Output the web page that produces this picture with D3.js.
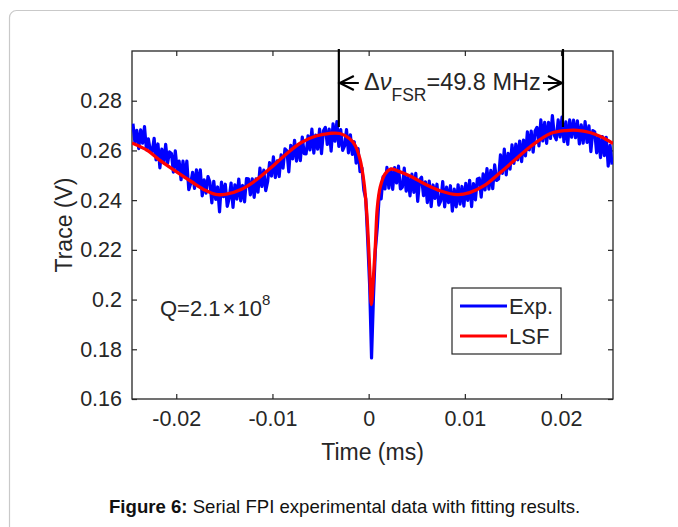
<!DOCTYPE html>
<html>
<head>
<meta charset="utf-8">
<script src="https://cdn.jsdelivr.net/npm/d3@7"></script>
<style>
  body { margin: 0; background: #fff; }
  text { font-family: "Liberation Sans", Arial, sans-serif; fill: #262626; }
</style>
</head>
<body>
<div id="fig"></div>
<script>
// tick values
const xTicks = [-0.02, -0.01, 0, 0.01, 0.02];
const yTicks = [0.16, 0.18, 0.2, 0.22, 0.24, 0.26, 0.28];

// LSF fit curve (time in ms, trace in V)
const fitT = [-0.0246, -0.0230, -0.0218, -0.0200, -0.0184, -0.0170, -0.0159, -0.0148, -0.0132, -0.0118,
  -0.0102, -0.0085, -0.0070, -0.0054, -0.0040, -0.0030, -0.0020, -0.0014, -0.0009, -0.0005,
  -0.0002, 0.0001, 0.00028, 0.0005, 0.0007, 0.0009, 0.0012, 0.0017, 0.0023, 0.0030,
  0.0043, 0.0060, 0.0075, 0.0092, 0.0105, 0.0120, 0.0135, 0.0150, 0.0168, 0.0189,
  0.0205, 0.0217, 0.0230, 0.0241, 0.0254];
const fitV = [0.2630, 0.2600, 0.2563, 0.2515, 0.2474, 0.2440, 0.2423, 0.2424, 0.2444, 0.2478,
  0.2529, 0.2588, 0.2632, 0.2659, 0.2669, 0.2668, 0.2648, 0.2620, 0.2565, 0.2475,
  0.2350, 0.2130, 0.1980, 0.2090, 0.2220, 0.2370, 0.2452, 0.2505, 0.2525, 0.2518,
  0.2497, 0.2462, 0.2437, 0.2422, 0.2430, 0.2458, 0.2505, 0.2555, 0.2615, 0.2668,
  0.2680, 0.2681, 0.2672, 0.2656, 0.2628];

// experimental trace, sampled every 0.0002 ms from -0.0245 ms
const expStart = -0.0245, expStep = 0.0002;
const expV = [
  0.2708, 0.2634, 0.2681, 0.2607, 0.2683, 0.2629, 0.2696, 0.2602, 0.2647, 0.2601,
  0.2595, 0.2649, 0.2562, 0.2626, 0.2530, 0.2605, 0.2550, 0.2624, 0.2549, 0.2594,
  0.2588, 0.2513, 0.2598, 0.2522, 0.2557, 0.2482, 0.2557, 0.2492, 0.2557, 0.2442,
  0.2467, 0.2512, 0.2447, 0.2522, 0.2457, 0.2522, 0.2417, 0.2482, 0.2428, 0.2495,
  0.2472, 0.2389, 0.2476, 0.2403, 0.2453, 0.2353, 0.2473, 0.2414, 0.2464, 0.2375,
  0.2406, 0.2469, 0.2371, 0.2462, 0.2404, 0.2485, 0.2397, 0.2459, 0.2393, 0.2487,
  0.2486, 0.2421, 0.2486, 0.2411, 0.2486, 0.2432, 0.2529, 0.2455, 0.2521, 0.2438,
  0.2474, 0.2551, 0.2497, 0.2574, 0.2491, 0.2558, 0.2495, 0.2582, 0.2529, 0.2606,
  0.2598, 0.2514, 0.2620, 0.2566, 0.2641, 0.2557, 0.2623, 0.2559, 0.2654, 0.2587,
  0.2586, 0.2659, 0.2602, 0.2686, 0.2589, 0.2662, 0.2605, 0.2686, 0.2587, 0.2679,
  0.2693, 0.2624, 0.2686, 0.2597, 0.2707, 0.2637, 0.2716, 0.2616, 0.2684, 0.2600,
  0.2618, 0.2684, 0.2590, 0.2663, 0.2584, 0.2635, 0.2549, 0.2607, 0.2515, 0.2530,
  0.2440, 0.2405, 0.2240, 0.2060, 0.1765, 0.2010, 0.2200, 0.2290, 0.2420, 0.2405,
  0.2494, 0.2445, 0.2532, 0.2448, 0.2525, 0.2443, 0.2531, 0.2469, 0.2537, 0.2445,
  0.2452, 0.2529, 0.2436, 0.2492, 0.2417, 0.2505, 0.2431, 0.2508, 0.2395, 0.2482,
  0.2492, 0.2418, 0.2474, 0.2390, 0.2477, 0.2374, 0.2461, 0.2407, 0.2464, 0.2380,
  0.2397, 0.2475, 0.2373, 0.2452, 0.2390, 0.2458, 0.2356, 0.2444, 0.2373, 0.2462,
  0.2384, 0.2455, 0.2376, 0.2468, 0.2399, 0.2480, 0.2374, 0.2467, 0.2401, 0.2485,
  0.2488, 0.2412, 0.2506, 0.2441, 0.2527, 0.2444, 0.2520, 0.2446, 0.2542, 0.2479,
  0.2485, 0.2582, 0.2508, 0.2605, 0.2502, 0.2588, 0.2525, 0.2622, 0.2548, 0.2625,
  0.2562, 0.2638, 0.2555, 0.2642, 0.2578, 0.2675, 0.2602, 0.2678, 0.2593, 0.2678,
  0.2693, 0.2618, 0.2723, 0.2638, 0.2713, 0.2628, 0.2713, 0.2648, 0.2740, 0.2661,
  0.2643, 0.2723, 0.2654, 0.2734, 0.2635, 0.2715, 0.2624, 0.2723, 0.2653, 0.2722,
  0.2651, 0.2719, 0.2626, 0.2703, 0.2629, 0.2716, 0.2632, 0.2699, 0.2595, 0.2680,
  0.2675, 0.2590, 0.2656, 0.2571, 0.2656, 0.2579, 0.2653, 0.2537, 0.2620, 0.2543];

// FSR markers (ms)
const fsrMarks = [-0.0031, 0.0202];

const W = 678, H = 527;
const plot = {left: 132, right: 613, top: 51, bottom: 399};

const svg = d3.select("#fig").append("svg")
  .attr("width", W).attr("height", H);

svg.append("rect").attr("width", W).attr("height", H).attr("fill", "#fff");
// page frame round the figure
svg.append("rect")
  .attr("x", 9.5).attr("y", 10.5).attr("width", 700).attr("height", 560).attr("rx", 7)
  .attr("fill", "none").attr("stroke", "#c9c9c9").attr("stroke-width", 1.2);

const x = d3.scaleLinear().domain([-0.0246, 0.0254]).range([plot.left, plot.right]);
const y = d3.scaleLinear().domain([0.16, 0.30]).range([plot.bottom, plot.top]);

svg.append("clipPath").attr("id", "clip").append("rect")
  .attr("x", plot.left).attr("y", plot.top)
  .attr("width", plot.right - plot.left).attr("height", plot.bottom - plot.top);

const fmt = d => String(d);

// axes, ticks pointing inward like matlab
const gx = svg.append("g").attr("transform", "translate(0," + plot.bottom + ")")
  .call(d3.axisBottom(x).tickValues(xTicks).tickFormat(fmt).tickSize(-5).tickPadding(12));
const gxTop = svg.append("g").attr("transform", "translate(0," + plot.top + ")")
  .call(d3.axisTop(x).tickValues(xTicks).tickFormat("").tickSize(-5));
const gy = svg.append("g").attr("transform", "translate(" + plot.left + ",0)")
  .call(d3.axisLeft(y).tickValues(yTicks).tickFormat(fmt).tickSize(-5).tickPadding(10));
const gyR = svg.append("g").attr("transform", "translate(" + plot.right + ",0)")
  .call(d3.axisRight(y).tickValues(yTicks).tickFormat("").tickSize(-5));

[gx, gxTop, gy, gyR].forEach(g => {
  g.select(".domain").remove();
  g.selectAll(".tick line").attr("stroke", "#262626").attr("stroke-width", 1.2);
  g.selectAll("text").attr("font-size", 21.5).attr("font-family", null).attr("fill", "#262626");
});

svg.append("rect")
  .attr("x", plot.left).attr("y", plot.top)
  .attr("width", plot.right - plot.left).attr("height", plot.bottom - plot.top)
  .attr("fill", "none").attr("stroke", "#262626").attr("stroke-width", 1.3);

// data lines
const expData = expV.map((v, i) => [expStart + i * expStep, v]);
const fitData = fitT.map((t, i) => [t, fitV[i]]);

const plotG = svg.append("g").attr("clip-path", "url(#clip)");
plotG.append("path").datum(expData)
  .attr("fill", "none").attr("stroke", "#0000ff").attr("stroke-width", 3.2)
  .attr("stroke-linejoin", "round")
  .attr("d", d3.line().x(d => x(d[0])).y(d => y(d[1])));
plotG.append("path").datum(fitData)
  .attr("fill", "none").attr("stroke", "#ff0000").attr("stroke-width", 3.3)
  .attr("d", d3.line().x(d => x(d[0])).y(d => y(d[1])).curve(d3.curveCatmullRom));

// FSR annotation
const arrowY = 83;
fsrMarks.forEach(t => {
  svg.append("line")
    .attr("x1", x(t)).attr("x2", x(t)).attr("y1", 49).attr("y2", 127)
    .attr("stroke", "#000").attr("stroke-width", 2.2);
});
const xa = x(fsrMarks[0]), xb = x(fsrMarks[1]);
const arr = svg.append("g").attr("stroke", "#000").attr("stroke-width", 2.2).attr("fill", "none");
arr.append("path").attr("d", `M${xa + 20},${arrowY}H${xa + 1}M${xa + 15},${arrowY - 7}L${xa + 1},${arrowY}L${xa + 15},${arrowY + 7}`);
arr.append("path").attr("d", `M${xb - 20},${arrowY}H${xb - 1}M${xb - 15},${arrowY - 7}L${xb - 1},${arrowY}L${xb - 15},${arrowY + 7}`);

const ann = svg.append("text").attr("x", 364).attr("y", 90).attr("font-size", 23.5);
ann.append("tspan").text("Δ");
ann.append("tspan").attr("font-style", "italic").text("ν");
ann.append("tspan").attr("font-size", 17.5).attr("dy", 11).text("FSR");
ann.append("tspan").attr("dy", -11).text("=49.8 MHz");

// Q label
const q = svg.append("text").attr("x", 160).attr("y", 316).attr("font-size", 22);
q.append("tspan").text("Q=2.1");
q.append("tspan").attr("dx", 2).text("×");
q.append("tspan").attr("dx", 2).text("10");
q.append("tspan").attr("font-size", 15).attr("dy", -11).text("8");

// legend
const lg = svg.append("g");
lg.append("rect").attr("x", 452).attr("y", 288).attr("width", 109).attr("height", 66)
  .attr("fill", "#fff").attr("stroke", "#262626").attr("stroke-width", 1.2);
[["Exp.", "#0000ff", 306], ["LSF", "#ff0000", 336]].forEach(([name, col, ly]) => {
  lg.append("line").attr("x1", 460).attr("x2", 507).attr("y1", ly).attr("y2", ly)
    .attr("stroke", col).attr("stroke-width", 3);
  lg.append("text").attr("x", 509).attr("y", ly + 8).attr("font-size", 22).text(name);
});

// axis titles
svg.append("text").attr("x", (plot.left + plot.right) / 2).attr("y", 460)
  .attr("text-anchor", "middle").attr("font-size", 23).text("Time (ms)");
svg.append("text").attr("transform", "translate(72," + (plot.top + plot.bottom) / 2 + ") rotate(-90)")
  .attr("text-anchor", "middle").attr("font-size", 23).text("Trace (V)");

// caption
const cap = svg.append("text").attr("x", 109).attr("y", 513).attr("font-size", 18.6).style("fill", "#111");
cap.append("tspan").attr("font-weight", "bold").text("Figure 6:");
cap.append("tspan").text(" Serial FPI experimental data with fitting results.");
</script>
</body>
</html>
